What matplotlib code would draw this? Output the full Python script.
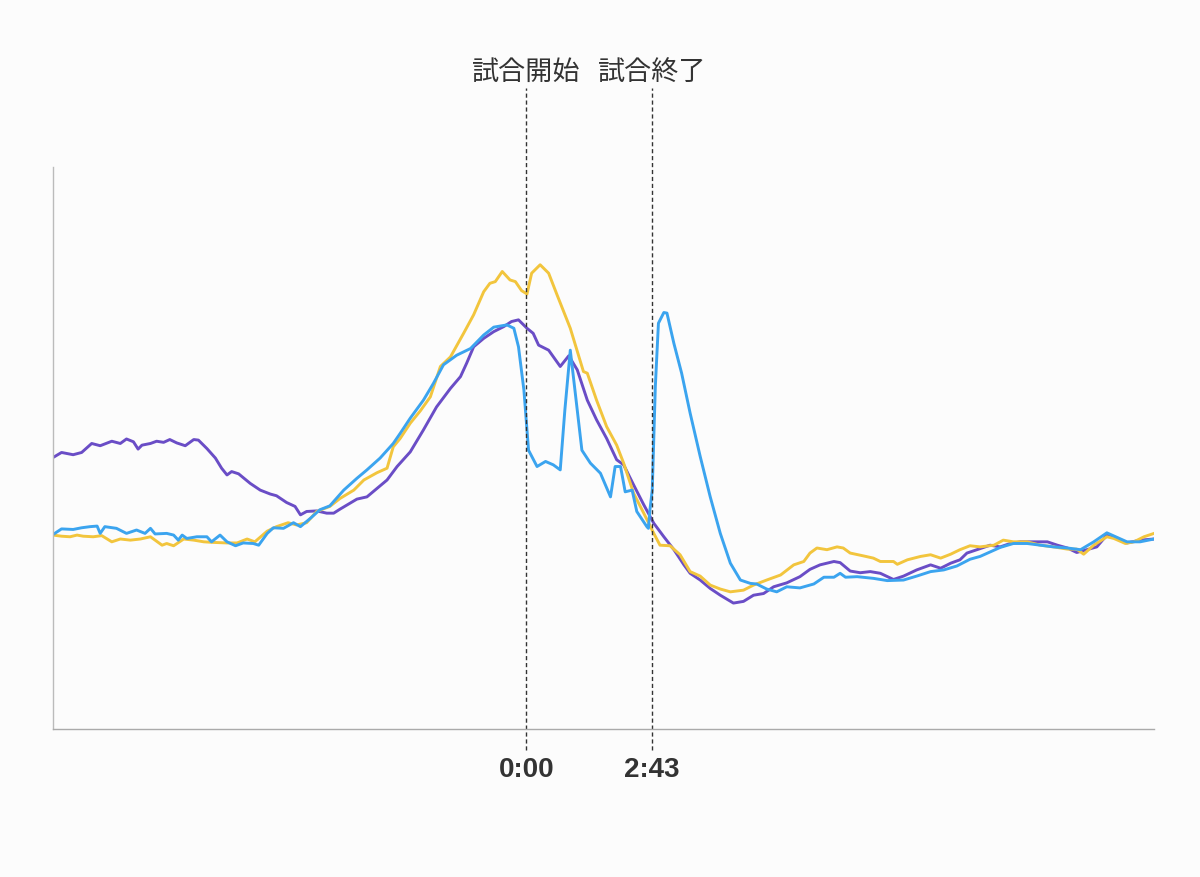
import matplotlib
matplotlib.use('Agg')
import matplotlib.pyplot as plt

# 時間（秒, 0 = 試合開始）と値（相対指数 0-100）
purple_t = [-612, -601, -586, -575, -562, -551, -536, -525, -517, -508, -502, -497, -486, -478,
            -469, -461, -452, -441, -430, -424, -413, -402, -394, -387, -381, -372, -357, -344,
            -331, -323, -310, -299, -292, -284, -271, -258, -249, -241, -219, -206, -193, -180,
            -167, -150, -133, -116, -98, -85, -77, -68, -55, -42, -29, -19, -10, 1, 9, 16, 29,
            44, 55, 66, 79, 91, 104, 117, 126, 139, 152, 165, 178, 191, 204, 212, 225, 238, 251,
            268, 281, 294, 307, 320, 337, 354, 367, 380, 398, 406, 419, 432, 445, 458, 475, 488,
            505, 523, 536, 549, 561, 570, 583, 600, 613, 626, 639, 656, 674, 687, 700, 712, 725,
            738, 751, 764, 777, 794, 812]
purple_v = [48.3, 49.2, 48.8, 49.2, 50.8, 50.4, 51.2, 50.8, 51.6, 51.1, 49.8, 50.5, 50.8, 51.2,
            51.0, 51.5, 50.9, 50.4, 51.5, 51.4, 49.9, 48.2, 46.4, 45.2, 45.8, 45.4, 43.7, 42.5,
            41.8, 41.5, 40.3, 39.6, 38.1, 38.7, 38.8, 38.4, 38.4, 39.1, 40.9, 41.3, 42.8, 44.3,
            46.7, 49.3, 53.2, 57.3, 60.6, 62.7, 65.1, 68.0, 69.5, 70.7, 71.6, 72.5, 72.8, 71.3,
            70.4, 68.3, 67.4, 64.5, 66.4, 63.9, 58.5, 55.0, 51.7, 47.9, 47.0, 43.4, 39.9, 36.6,
            34.2, 31.9, 29.2, 27.7, 26.5, 25.0, 23.8, 22.4, 22.7, 23.8, 24.1, 25.3, 26.0, 27.1,
            28.4, 29.2, 29.8, 29.6, 28.1, 27.8, 28.0, 27.7, 26.6, 27.2, 28.3, 29.2, 28.6, 29.5,
            30.1, 31.3, 31.9, 32.7, 32.4, 33.0, 33.3, 33.3, 33.3, 32.7, 32.2, 31.4, 31.9, 32.4,
            34.5, 33.9, 33.1, 33.6, 33.8]

blue_t = [-612, -601, -586, -575, -564, -555, -551, -545, -530, -517, -504, -493, -486, -480,
          -465, -456, -450, -445, -439, -426, -413, -407, -396, -387, -376, -366, -353, -346,
          -335, -327, -314, -301, -292, -279, -267, -254, -236, -219, -206, -189, -172, -163,
          -150, -133, -120, -107, -90, -72, -55, -42, -25, -16, -10, -3, 3, 14, 25, 35, 44, 50,
          57, 63, 72, 83, 96, 109, 115, 122, 128, 137, 143, 156, 158, 160, 163, 167, 171, 178,
          182, 191, 201, 212, 225, 238, 251, 264, 277, 290, 298, 311, 324, 337, 354, 372, 385,
          398, 406, 413, 428, 449, 467, 488, 505, 523, 540, 557, 574, 587, 600, 613, 630, 648,
          665, 682, 700, 717, 734, 751, 764, 777, 794, 812]
blue_v = [34.6, 35.6, 35.5, 35.8, 36.0, 36.1, 34.8, 36.0, 35.7, 34.8, 35.4, 34.8, 35.7, 34.7,
          34.8, 34.5, 33.6, 34.5, 33.9, 34.2, 34.2, 33.3, 34.5, 33.3, 32.6, 33.1, 33.0, 32.7,
          34.8, 35.8, 35.7, 36.7, 36.0, 37.5, 39.0, 39.7, 42.5, 44.6, 46.1, 48.2, 50.8, 52.6,
          55.3, 58.5, 61.5, 64.8, 66.5, 67.7, 70.1, 71.5, 71.9, 71.3, 68.0, 60.3, 49.6, 46.7,
          47.6, 47.0, 46.1, 56.8, 67.4, 60.3, 49.6, 47.3, 45.5, 41.3, 46.7, 46.7, 42.2, 42.5,
          38.7, 36.0, 35.7, 39.0, 42.5, 61.0, 72.2, 74.1, 74.0, 68.6, 63.3, 56.2, 48.5, 41.3,
          34.8, 29.5, 26.5, 25.9, 25.8, 24.9, 24.4, 25.3, 25.1, 25.8, 27.0, 27.0, 27.7, 27.0,
          27.1, 26.8, 26.4, 26.5, 27.2, 28.0, 28.3, 29.0, 30.2, 30.7, 31.5, 32.3, 33.0, 33.0,
          32.7, 32.4, 32.2, 31.9, 33.3, 34.9, 34.1, 33.3, 33.3, 33.8]

yellow_t = [-612, -601, -590, -581, -573, -560, -549, -536, -525, -512, -499, -486, -471, -465,
            -456, -443, -430, -417, -405, -387, -374, -361, -351, -335, -323, -308, -297, -284,
            -271, -254, -241, -223, -210, -193, -180, -172, -163, -150, -137, -124, -111, -98,
            -81, -68, -55, -47, -40, -31, -21, -14, -6, 1, 7, 18, 29, 40, 57, 74, 79, 91, 104,
            117, 126, 139, 152, 165, 173, 186, 199, 212, 225, 238, 251, 264, 281, 294, 311, 329,
            346, 359, 367, 376, 389, 402, 410, 419, 436, 449, 458, 475, 480, 493, 510, 523, 536,
            549, 561, 574, 587, 605, 617, 630, 648, 665, 682, 700, 712, 721, 734, 751, 760, 775,
            786, 799, 812]
yellow_v = [34.5, 34.3, 34.2, 34.5, 34.3, 34.2, 34.4, 33.3, 33.8, 33.6, 33.8, 34.2, 32.7, 33.0,
            32.6, 33.8, 33.6, 33.3, 33.2, 33.1, 33.1, 33.8, 33.3, 35.2, 36.0, 36.7, 36.3, 36.7,
            38.7, 39.6, 41.0, 42.5, 44.3, 45.6, 46.4, 50.2, 51.7, 54.4, 56.6, 59.1, 64.5, 66.2,
            70.4, 73.7, 77.8, 79.3, 79.6, 81.4, 79.9, 79.6, 78.0, 77.4, 81.1, 82.6, 81.1, 77.2,
            71.3, 63.6, 63.3, 58.5, 53.8, 50.5, 47.3, 41.9, 38.4, 34.8, 32.7, 32.6, 31.0, 28.0,
            27.2, 25.6, 24.9, 24.4, 24.7, 25.6, 26.5, 27.4, 29.2, 29.8, 31.3, 32.2, 31.9, 32.4,
            32.2, 31.3, 30.8, 30.4, 29.8, 29.8, 29.3, 30.1, 30.7, 31.0, 30.4, 31.1, 31.9, 32.6,
            32.4, 32.7, 33.6, 33.3, 33.3, 32.7, 32.4, 32.0, 32.0, 31.1, 32.7, 34.2, 33.9, 33.0,
            33.3, 34.2, 34.8]

event_t = [0, 163]
event_tick = ['0:00', '2:43']
event_name = ['試合開始', '試合終了']

plt.rcParams['font.family'] = ['Noto Sans CJK JP', 'DejaVu Sans']

fig = plt.figure(figsize=(12, 8.77), dpi=100, facecolor='#fcfcfc')
ax = fig.add_axes([0.0442, 0.1688, 0.9175, 0.6408])
ax.set_facecolor('#fcfcfc')

ax.plot(purple_t, purple_v, color='#6a4dc6', lw=2.1)
ax.plot(yellow_t, yellow_v, color='#f2c53d', lw=2.1)
ax.plot(blue_t, blue_v, color='#3ba4ef', lw=2.1)

# 試合開始・終了の縦線
for t, name in zip(event_t, event_name):
    ax.plot([t, t], [-0.037, 1.14], transform=ax.get_xaxis_transform(), clip_on=False,
            color='#333333', lw=1.0, ls=(0, (3, 2)))
    ax.text(t, 1.168, name, transform=ax.get_xaxis_transform(), ha='center', va='center',
            fontsize=19.5, color='#333333')

ax.set_xlim(-612, 812)
ax.set_ylim(0, 100)
ax.set_yticks([])
ax.set_xticks(event_t)
ax.set_xticklabels(event_tick, fontsize=20, fontweight='bold', color='#333333',
                   family=['Liberation Sans', 'DejaVu Sans'])
ax.tick_params(axis='x', length=0, pad=20)

for s in ['top', 'right']:
    ax.spines[s].set_visible(False)
ax.spines['left'].set_color('#bbbbbb')
ax.spines['bottom'].set_color('#aaaaaa')
ax.spines['left'].set_linewidth(1.0)
ax.spines['bottom'].set_linewidth(1.0)

plt.savefig('out.png', dpi=100, facecolor=fig.get_facecolor())
